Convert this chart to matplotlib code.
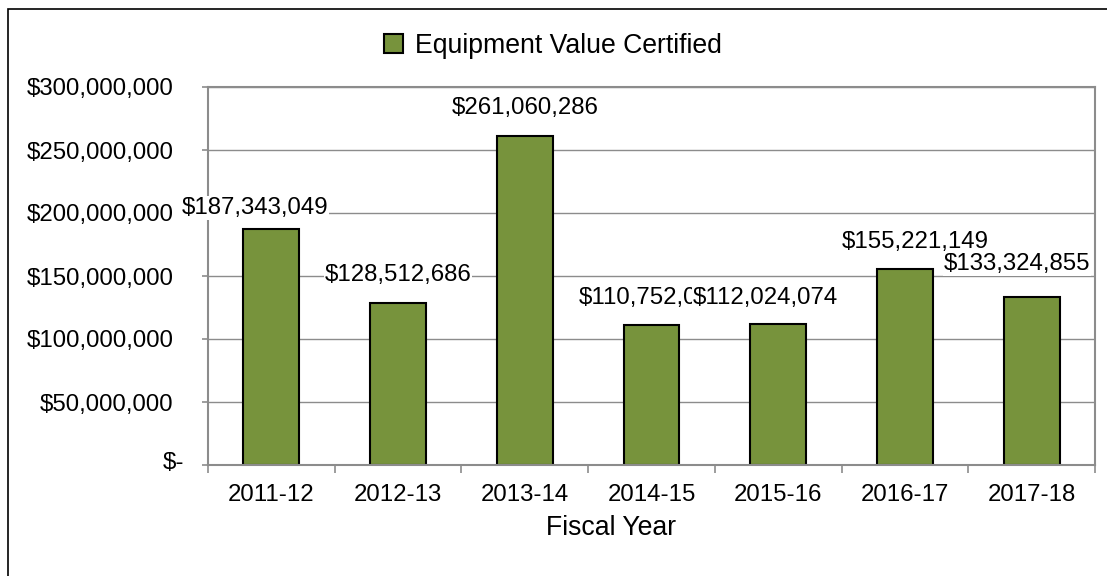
import numpy as np
import matplotlib.pyplot as plt
from matplotlib.patches import Rectangle
from matplotlib.ticker import FuncFormatter, FixedLocator

plt.rcParams['font.family'] = ['Liberation Sans', 'DejaVu Sans']

# --- data ---
years = ["2011-12", "2012-13", "2013-14", "2014-15", "2015-16", "2016-17", "2017-18"]
values = [187343049, 128512686, 261060286, 110752000, 112024074, 155221149, 133324855]
series_name = "Equipment Value Certified"

# label nudges in pixels (Excel placed some labels off-centre)
label_dx = [-16, 0, 0, 0, -13, 10, -15]
label_dy = [21, 28, 28, 27, 26, 27, 33]

green = "#77933C"
grid_gray = "#8C8C8C"
fs = 17.3
fs_big = 19.2

fig = plt.figure(figsize=(11.07, 5.76), dpi=100)
ax = fig.add_axes([208/1107, 1 - 465/576, (1095-208)/1107, (465-87)/576])

x = np.arange(len(years))
bars = ax.bar(x, values, width=0.44, color=green, edgecolor="black", linewidth=1.5,
              zorder=2, label=series_name)

ax.set_xlim(-0.5, len(years) - 0.5)
ax.set_ylim(0, 300000000)
ax.yaxis.set_major_locator(FixedLocator(np.arange(0, 300000001, 50000000)))

def money(v, pos):
    if v == 0:
        return ""
    return "${:,.0f}".format(v)

ax.yaxis.set_major_formatter(FuncFormatter(money))
# zero shown Excel-accounting style, sits a bit further right
ax.annotate("$-", xy=(0, 0), xycoords="axes fraction", xytext=(-24, 2),
            textcoords="offset pixels", ha="right", va="center", fontsize=fs)
ax.grid(axis="y", color=grid_gray, linewidth=1, zorder=0)
ax.set_axisbelow(True)

ax.set_xticks(x)
ax.set_xticklabels(years)
ax.set_xticks(np.arange(-0.5, len(years)), minor=True)
ax.tick_params(axis="x", which="major", length=0, pad=14, labelsize=fs)
ax.tick_params(axis="x", which="minor", length=6, color=grid_gray, width=1.2)
ax.tick_params(axis="y", length=4, color=grid_gray, width=1.2, pad=21, labelsize=fs)

for s in ax.spines.values():
    s.set_color(grid_gray)
    s.set_linewidth(1.5)

for i, b in enumerate(bars):
    ax.annotate("${:,.0f}".format(values[i]),
                xy=(b.get_x() + b.get_width() / 2, b.get_height()),
                xytext=(label_dx[i], label_dy[i]), textcoords="offset pixels",
                ha="center", va="center", fontsize=fs,
                bbox=dict(facecolor="white", edgecolor="none", pad=0.5),
                annotation_clip=False, zorder=5)

fig.text(611/1107, 1 - 528/576, "Fiscal Year", ha="center", va="center", fontsize=fs_big)

fig.legend(handles=[Rectangle((0, 0), 1, 1, facecolor=green, edgecolor="black", linewidth=1.5)],
           labels=[series_name], loc="center", bbox_to_anchor=(553/1107, 1 - 46/576),
           frameon=False, fontsize=fs_big, handlelength=0.7, handleheight=0.7,
           handletextpad=0.45)

# outer chart frame (left and top edges visible)
fig.patches.append(Rectangle((8/1107, -0.1), 1.2, 1 - 9/576 + 0.1, transform=fig.transFigure,
                             fill=False, edgecolor="black", linewidth=1.2))

fig.savefig("out.png", dpi=100)
